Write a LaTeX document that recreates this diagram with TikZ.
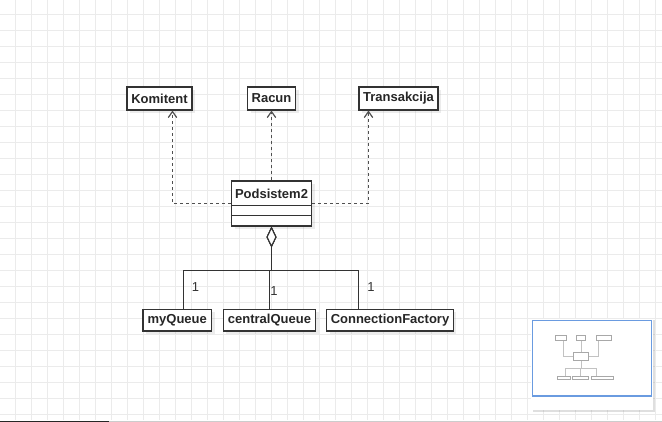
\documentclass[tikz,border=0pt]{standalone}
\usepackage{fontspec}
\setmainfont{Liberation Sans}
\usetikzlibrary{arrows.meta,shadows,calc}
\definecolor{gridc}{HTML}{EBEBEB}
\definecolor{edgec}{HTML}{333333}
\definecolor{dashc}{HTML}{505050}
\definecolor{navc}{HTML}{6A9BE0}
\definecolor{minic}{HTML}{A8A8A8}
\tikzset{
  box/.style={draw=edgec, line width=1.1pt, fill=white, inner sep=0pt,
    drop shadow={shadow xshift=3pt, shadow yshift=-3pt, opacity=0.15}},
  boxtext/.style={font=\fontsize{13}{15}\selectfont\bfseries, text=black!85},
  dep/.style={draw=dashc, line width=1.2pt, dash pattern=on 3pt off 3pt,
    -{Straight Barb[length=6pt,width=8.5pt]}},
  agg/.style={draw=edgec, line width=1pt, {Diamond[fill=white,length=21pt,width=10pt,line width=1.1pt]}-},
  mult/.style={font=\fontsize{13}{15}\selectfont, text=edgec, inner sep=0pt},
  mini/.style={draw=minic, line width=0.5pt, fill=white},
  miniedge/.style={draw=minic!70, line width=0.4pt},
}
\begin{document}
\begin{tikzpicture}[x=1pt, y=-1pt]
\useasboundingbox (0,0) rectangle (662,422);
\fill[white] (0,0) rectangle (662,422);
% grid
\foreach \x in {15.5,31.5,...,655.5} \draw[gridc, line width=1pt] (\x,0) -- (\x,420);
\foreach \y in {14.5,30.5,...,414.5} \draw[gridc, line width=1pt] (0,\y) -- (662,\y);

% classes on top
\node[box, boxtext, minimum width=65pt, minimum height=23pt] (k) at (159.5,98.5) {Komitent};
\node[box, boxtext, minimum width=48pt, minimum height=23pt] (r) at (271.5,98.5) {Racun};
\node[box, boxtext, minimum width=79pt, minimum height=23pt] (t) at (398.5,98.5) {Transakcija};

% Podsistem2
\node[box, minimum width=80pt, minimum height=45pt] (p) at (271.5,203.5) {};
\node[boxtext] (ptitle) at (271.5,193.5) {Podsistem2};
\draw[edgec, line width=1.1pt] ($(p.north west)+(0,25)$) -- ($(p.north east)+(0,25)$);
\draw[edgec, line width=1.1pt] ($(p.north west)+(0,35.5)$) -- ($(p.north east)+(0,35.5)$);

% bottom classes
\node[box, boxtext, minimum width=68.5pt, minimum height=21.5pt] (mq) at (177.25,320.25) {myQueue};
\node[box, boxtext, minimum width=92.3pt, minimum height=21.5pt] (cq) at (269.5,320.25) {centralQueue};
\node[box, boxtext, minimum width=126.6pt, minimum height=21.5pt] (cf) at (390,320.25) {ConnectionFactory};

% dependencies
\draw[dep] (p.west) -| ([xshift=13pt]k.south);
\draw[dep] (p.north) -- (r.south);
\draw[dep] (p.east) -| ([xshift=-30pt]t.south);

% aggregations
\coordinate (split) at (271.5,270.5);
\draw[agg] (p.south) -- (split) -| ([xshift=6.25pt]mq.north);
\draw[agg] (p.south) -- (split) -| (cq.north);
\draw[agg] (p.south) -- (split) -| ([xshift=-31.5pt]cf.north);
\draw[edgec, line width=1.9pt] ([yshift=-21pt]p.south) -- (split);

% multiplicities
\node[mult] (m1) at (195.5,287.5) {1};
\node[mult] (m2) at (274,291) {1};
\node[mult] (m3) at (371,287.5) {1};

% outline (minimap)
\fill[white, drop shadow={shadow xshift=1.5pt, shadow yshift=-1.5pt, opacity=0.25}] (531,319) rectangle (653,410);
\draw[navc, line width=1.2pt] (532.5,320.5) rectangle (651.5,396);
\begin{scope}[shift={(532,320)}, scale=0.18]
  \draw[miniedge] (231,203) -| (172,110);
  \draw[miniedge] (271,181) -- (271,110);
  \draw[miniedge] (311,203) -| (368.5,110);
  \draw[miniedge] (271,226) -- (271,270);
  \draw[miniedge] (183,310) |- (358.5,270) -- (358.5,310);
  \draw[miniedge] (269,270) -- (269,310);
  \draw[mini] (127,87) rectangle (192,110);
  \draw[mini] (247,87) rectangle (295,110);
  \draw[mini] (359,87) rectangle (438,110);
  \draw[mini] (231,181) rectangle (311,226);
  \draw[mini] (143,310) rectangle (211.5,331);
  \draw[mini] (222.7,310) rectangle (315,331);
  \draw[mini] (326.7,310) rectangle (453.3,331);
\end{scope}

% bottom scrollbar
\fill[black!20] (0,420.5) rectangle (662,422);
\fill[black!85] (0,420.5) rectangle (109,422);
\end{tikzpicture}
\end{document}
